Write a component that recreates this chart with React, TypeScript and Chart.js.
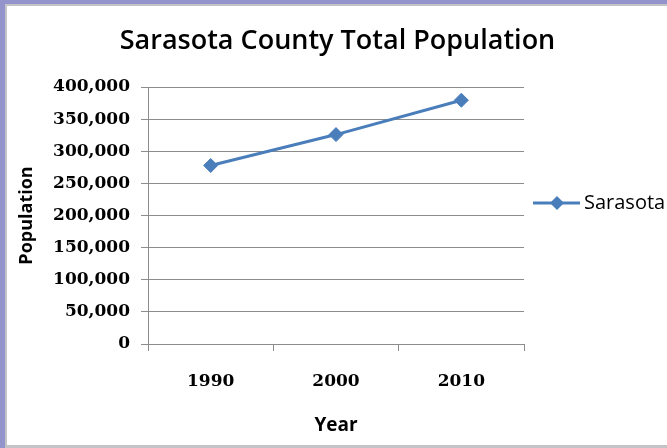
import React, { useEffect, useRef } from 'react';
import { Chart, registerables } from 'chart.js';

Chart.register(...registerables);

const years: string[] = ['1990', '2000', '2010'];
const population: number[] = [277776, 325957, 379448];
const seriesLabel = 'Sarasota';
const chartTitle = 'Sarasota County Total Population';
const xAxisTitle = 'Year';
const yAxisTitle = 'Population';
const yMin = 0;
const yMax = 400000;
const yStep = 50000;

const LINE_COLOR = '#4a7ebb';
const GRID_COLOR = '#8c8c8c';
const SERIF = '"DejaVu Serif", serif';
const SANS = '"Open Sans", sans-serif';

const framePlugin = {
  id: 'frame',
  beforeDraw(chart: any) {
    const { ctx, width, height } = chart;
    ctx.save();
    ctx.fillStyle = '#9494cc';
    ctx.fillRect(0, 0, width, height);
    ctx.fillStyle = '#c4c4c8';
    ctx.fillRect(5, 4, width - 5, height - 4);
    ctx.fillStyle = '#ffffff';
    ctx.fillRect(7, 6, width - 7, height - 9);
    ctx.restore();
  },
};

const legendPlugin = {
  id: 'sideLegend',
  afterDraw(chart: any) {
    const { ctx } = chart;
    const ds = chart.data.datasets[0];
    const y = 203;
    ctx.save();
    ctx.strokeStyle = ds.borderColor;
    ctx.lineWidth = 3;
    ctx.beginPath();
    ctx.moveTo(533, y);
    ctx.lineTo(580, y);
    ctx.stroke();
    ctx.fillStyle = ds.pointBackgroundColor;
    ctx.beginPath();
    const r = 7;
    ctx.moveTo(557, y - r);
    ctx.lineTo(557 + r, y);
    ctx.lineTo(557, y + r);
    ctx.lineTo(557 - r, y);
    ctx.closePath();
    ctx.fill();
    ctx.fillStyle = '#000';
    ctx.font = `500 20px ${SANS}`;
    ctx.textAlign = 'left';
    ctx.textBaseline = 'middle';
    ctx.fillText(ds.label, 584, y);
    ctx.restore();
  },
};

export default function App() {
  const ref = useRef<HTMLCanvasElement | null>(null);
  useEffect(() => {
    document.body.style.margin = '0';
    const canvas = ref.current;
    if (!canvas) return;
    const chart = new Chart(canvas, {
      type: 'line',
      data: {
        labels: years,
        datasets: [
          {
            label: seriesLabel,
            data: population,
            borderColor: LINE_COLOR,
            backgroundColor: LINE_COLOR,
            pointBackgroundColor: LINE_COLOR,
            pointBorderColor: LINE_COLOR,
            borderWidth: 3,
            pointStyle: 'rectRot',
            pointRadius: 7,
            pointBorderWidth: 1,
            tension: 0,
          },
        ],
      },
      options: {
        animation: false,
        responsive: false,
        maintainAspectRatio: false,
        devicePixelRatio: 1,
        layout: { padding: { left: 8, right: 0, top: 6, bottom: 6 } },
        plugins: {
          legend: { display: false },
          tooltip: { enabled: false },
          title: {
            display: true,
            text: chartTitle,
            color: '#000',
            font: { family: SANS, size: 27, weight: 600 },
            padding: { top: 19, bottom: 29.6 },
          },
        },
        scales: {
          x: {
            type: 'category',
            offset: true,
            grid: {
              display: true,
              offset: true,
              drawOnChartArea: false,
              drawTicks: true,
              tickLength: 7,
              color: GRID_COLOR,
            },
            border: { display: true, color: GRID_COLOR, width: 1 },
            ticks: {
              color: '#000',
              font: { family: SERIF, size: 17, weight: 'bold' },
              padding: 20,
            },
            title: {
              display: true,
              text: xAxisTitle,
              color: '#000',
              font: { family: SANS, size: 19, weight: 'bold' },
              padding: { top: 0, bottom: 5 },
            },
            afterFit: (scale: any) => {
              scale.height = 448 - 6 - 344;
            },
          },
          y: {
            min: yMin,
            max: yMax,
            grid: {
              color: GRID_COLOR,
              drawTicks: true,
              tickLength: 7,
            },
            border: { display: true, color: GRID_COLOR, width: 1 },
            ticks: {
              stepSize: yStep,
              color: '#000',
              font: { family: SERIF, size: 17, weight: 'bold' },
              padding: 11,
              callback: (v: any) => Number(v).toLocaleString('en-US'),
            },
            title: {
              display: true,
              text: yAxisTitle,
              color: '#000',
              font: { family: SANS, size: 18, weight: 'bold' },
              padding: { top: 8, bottom: 0 },
            },
            afterFit: (scale: any) => {
              scale.width = 148 - 8;
            },
          },
          legendSpace: {
            type: 'linear',
            position: 'right',
            display: true,
            grid: { display: false, drawTicks: false },
            border: { display: false },
            ticks: { display: false },
            afterFit: (scale: any) => {
              scale.width = 667 - 524;
            },
          },
        },
      },
      plugins: [framePlugin, legendPlugin],
    });
    return () => chart.destroy();
  }, []);
  return (
    <div style={{ width: 667, height: 448 }}>
      <canvas ref={ref} width={667} height={448} style={{ display: 'block', width: 667, height: 448 }} />
    </div>
  );
}
